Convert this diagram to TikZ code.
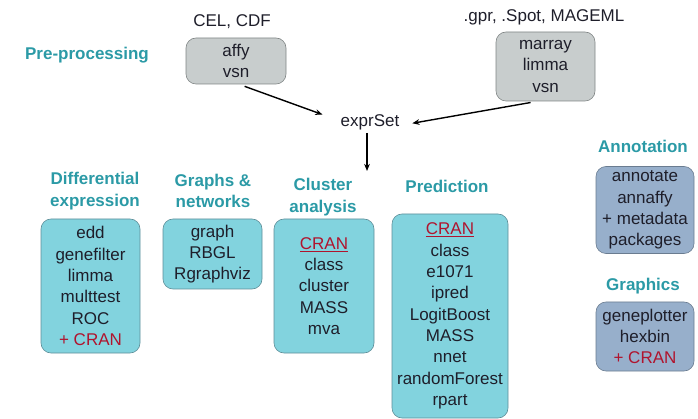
\documentclass[tikz,border=0pt]{standalone}
\usepackage{fontspec}
\setmainfont{Liberation Sans}
\usepackage{xcolor}
\definecolor{cHead}{HTML}{2B9AA6}
\definecolor{cText}{HTML}{1E1E2A}
\definecolor{cRed}{HTML}{B0142E}
\definecolor{cTeal}{HTML}{82D3DE}
\definecolor{cTealEdge}{HTML}{5E8E98}
\definecolor{cGrayBox}{HTML}{C8CDCD}
\definecolor{cGrayEdge}{HTML}{808585}
\definecolor{cSteel}{HTML}{97AFCB}
\definecolor{cSteelEdge}{HTML}{6A7C90}
\usetikzlibrary{positioning,arrows.meta}
\newcommand{\pkgfont}{\fontsize{17}{21.3}\selectfont}
\tikzset{
  pkg-box/.style={draw,semithick,rounded corners=10pt,align=center,
    font=\pkgfont,text=cText,inner sep=0pt},
  pkg-teal/.style={fill=cTeal,draw=cTealEdge},
  pkg-gray/.style={fill=cGrayBox,draw=cGrayEdge},
  pkg-steel/.style={fill=cSteel,draw=cSteelEdge},
  head/.style={align=center,font=\pkgfont\bfseries,text=cHead,inner sep=0pt},
  fmt/.style={align=center,font=\pkgfont,text=cText,inner sep=0pt},
  arrow/.style={-{Stealth[length=2.5mm,width=2mm]},line width=1.4pt,draw=black},
}

\begin{document}
\begin{tikzpicture}[x=1pt,y=1pt]
  \useasboundingbox (0,0) rectangle (698,-419);
  % pre-processing
  \node[head] (pre) at (87,-55) {Pre-processing};
  \node[fmt] (cel) at (232,-22) {CEL, CDF};
  \node[fmt] (gpr) at (544,-17) {.gpr, .Spot, MAGEML};
  \node[pkg-box,pkg-gray,minimum width=100pt,minimum height=46pt] (affy)
    at (236,-61) {affy\\vsn};
  \node[pkg-box,pkg-gray,minimum width=99pt,minimum height=69pt] (marray)
    at (545.5,-66.5) {marray\\limma\\vsn};
  \node[fmt,inner sep=3pt] (expr) at (370,-122) {exprSet};
  \coordinate (split) at (367,-171);
  \draw[arrow,shorten <=6pt,shorten >=16pt] ([xshift=3pt]affy.south) -- ([yshift=2pt]expr.west);
  \draw[arrow,shorten <=7pt,shorten >=10pt] ([xshift=-8pt]marray.south) -- ([yshift=-3pt]expr.east);
  \draw[arrow] ([xshift=-3pt]expr.south) -- (split);
  % analysis
  \node[head] (h-diff) at (95,-191) {Differential\\expression};
  \node[pkg-box,pkg-teal,minimum width=99pt,minimum height=134pt] (diff)
    at (90.5,-286) {edd\\genefilter\\limma\\multtest\\ROC\\\textcolor{cRed}{+ CRAN}};
  \node[head] (h-graph) at (213,-191) {Graphs \&\\networks};
  \node[pkg-box,pkg-teal,minimum width=99pt,minimum height=70pt] (graph)
    at (212.5,-254) {graph\\RBGL\\Rgraphviz};
  \node[head] (h-clust) at (323,-197) {Cluster\\analysis};
  \node[pkg-box,pkg-teal,minimum width=100pt,minimum height=134pt] (clust)
    at (324,-286) {\textcolor{cRed}{\underline{CRAN}}\\class\\cluster\\MASS\\mva};
  \node[head] (h-pred) at (447,-186) {Prediction};
  \node[pkg-box,pkg-teal,minimum width=116pt,minimum height=204pt] (pred)
    at (450,-316) {\textcolor{cRed}{\underline{CRAN}}\\class\\e1071\\ipred\\LogitBoost\\MASS\\nnet\\randomForest\\rpart};
  % annotation, graphics
  \node[head] (h-annot) at (643,-146) {Annotation};
  \node[pkg-box,pkg-steel,minimum width=98pt,minimum height=87pt] (annot)
    at (645,-210) {annotate\\annaffy\\+ metadata\\packages};
  \node[head] (h-gfx) at (643,-286) {Graphics};
  \node[pkg-box,pkg-steel,minimum width=98pt,minimum height=69pt] (gfx)
    at (645,-336.5) {geneplotter\\hexbin\\\textcolor{cRed}{+ CRAN}};
\end{tikzpicture}
\end{document}
